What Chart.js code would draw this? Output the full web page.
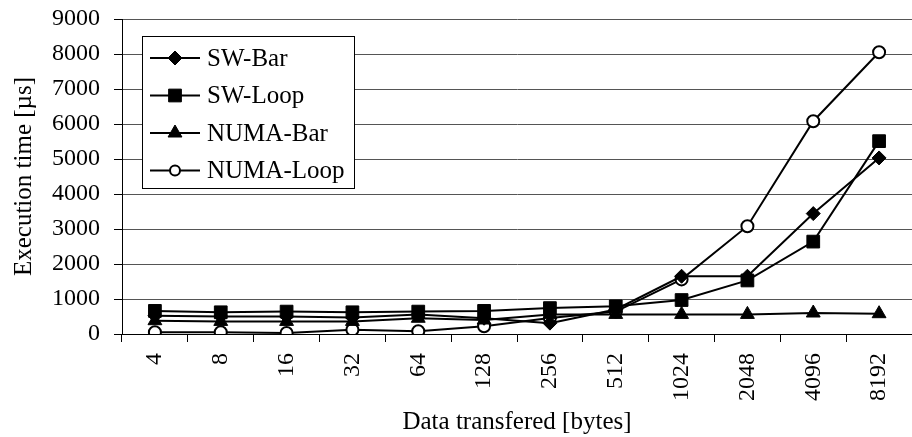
<!DOCTYPE html>
<html>
<head>
<meta charset="utf-8">
<script src="https://cdn.jsdelivr.net/npm/chart.js@4/dist/chart.umd.min.js"></script>
<style>
  html, body { margin: 0; padding: 0; background: #fff; }
  #wrap { width: 912px; height: 437px; }
</style>
</head>
<body>
<div id="wrap"><canvas id="grafica"></canvas></div>
<script>
// tamaños de datos transferidos (bytes)
const tamanos = ["4", "8", "16", "32", "64", "128", "256", "512", "1024", "2048", "4096", "8192"];

// tiempos de ejecución en µs
const swBar    = [520, 500, 500, 470, 560, 450, 310, 700, 1650, 1650, 3440, 5030];
const swLoop   = [660, 620, 640, 620, 640, 660, 740, 790, 970, 1530, 2640, 5510];
const numaBar  = [380, 360, 360, 360, 450, 400, 560, 560, 560, 560, 600, 580];
const numaLoop = [50, 50, 30, 120, 80, 220, 460, 640, 1560, 3080, 6080, 8050];

const nombres = ["SW-Bar", "SW-Loop", "NUMA-Bar", "NUMA-Loop"];
const valores = [swBar, swLoop, numaBar, numaLoop];
const simbolos = ["rectRot", "rect", "triangle", "circle"];
const radios = [7, 9, 8, 6];
const rellenos = ["#000", "#000", "#000", "#fff"];

const fuente = "'Liberation Serif', 'Times New Roman', serif";

// leyenda dibujada dentro del área del gráfico, con recuadro
const leyendaCaja = {
  id: 'leyendaCaja',
  afterDraw(chart) {
    const ctx = chart.ctx;
    const x0 = 142, y0 = 36, w = 212, h = 152;
    ctx.save();
    ctx.fillStyle = '#fff';
    ctx.fillRect(x0, y0, w, h);
    ctx.strokeStyle = '#000';
    ctx.lineWidth = 1;
    ctx.strokeRect(x0 + 0.5, y0 + 0.5, w, h);
    chart.data.datasets.forEach((ds, i) => {
      const y = 58 + i * 37.5;
      ctx.beginPath();
      ctx.strokeStyle = '#000';
      ctx.lineWidth = 2;
      ctx.moveTo(150, y);
      ctx.lineTo(200, y);
      ctx.stroke();
      ctx.fillStyle = ds.pointBackgroundColor;
      ctx.strokeStyle = '#000';
      ctx.lineWidth = ds.pointBorderWidth;
      Chart.helpers.drawPoint(ctx, {
        pointStyle: ds.pointStyle,
        radius: ds.pointStyle === 'circle' ? 5 : ds.pointRadius,
        rotation: 0,
        borderWidth: ds.pointBorderWidth
      }, 175, y);
      ctx.fillStyle = '#000';
      ctx.font = "25px " + fuente;
      ctx.textBaseline = 'middle';
      ctx.textAlign = 'left';
      ctx.fillText(ds.label, 207, y + 1);
    });
    ctx.restore();
  }
};

const conjuntos = nombres.map((n, i) => ({
  label: n,
  data: valores[i],
  borderColor: '#000',
  borderWidth: 2,
  pointStyle: simbolos[i],
  pointRadius: radios[i],
  pointBackgroundColor: rellenos[i],
  pointBorderColor: '#000',
  pointBorderWidth: i === 3 ? 2 : 1,
  tension: 0,
  fill: false
}));

Chart.defaults.font.family = fuente;
Chart.defaults.color = '#000';

const ctx = document.getElementById('grafica').getContext('2d');
const grafico = new Chart(ctx, {
  type: 'line',
  data: { labels: tamanos, datasets: conjuntos },
  options: {
    responsive: true,
    maintainAspectRatio: false,
    animation: false,
    layout: { autoPadding: false, padding: { top: 19, right: 0, left: 0, bottom: 0 } },
    plugins: { legend: { display: false }, tooltip: { enabled: false } },
    scales: {
      x: {
        type: 'category',
        offset: true,
        grid: { offset: true, drawOnChartArea: false, color: '#000', tickLength: 8 },
        border: { display: true, color: '#000', width: 1 },
        ticks: { minRotation: 90, maxRotation: 90, padding: 11, font: { size: 24 }, color: '#000' },
        title: { display: true, text: 'Data transfered [bytes]', font: { size: 25 }, padding: { top: 0, bottom: 0 } },
        afterFit: (scale) => {
          scale.height = 103;
          scale.paddingLeft = 0;
          scale.paddingRight = 0;
        }
      },
      y: {
        min: 0,
        max: 9000,
        ticks: {
          stepSize: 1000, padding: 14, font: { size: 24 }, color: '#000',
          callback: (v) => String(v)
        },
        grid: { color: '#555', tickLength: 8, tickColor: '#000' },
        border: { display: true, color: '#000', width: 1 },
        title: { display: true, text: 'Execution time [µs]', font: { size: 25 }, padding: { top: 9, bottom: 0 } },
        afterFit: (scale) => {
          scale.width = 122;
          scale.paddingTop = 0;
          scale.paddingBottom = 0;
        }
      }
    }
  },
  plugins: [leyendaCaja]
});
</script>
</body>
</html>
